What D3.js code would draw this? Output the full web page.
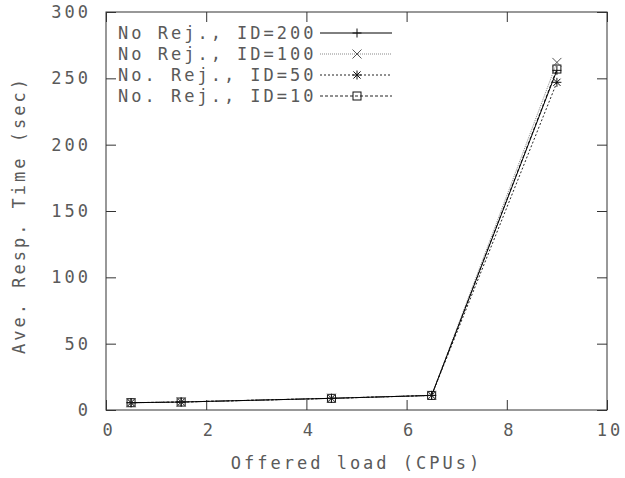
<!DOCTYPE html>
<html>
<head>
<meta charset="utf-8">
<script src="https://cdn.jsdelivr.net/npm/d3@7"></script>
<style>
  html, body { margin: 0; padding: 0; background: #fff; }
  text { font-family: "DejaVu Sans Mono", monospace; font-size: 17px; letter-spacing: 3px; fill: #5a5a5a; }
</style>
</head>
<body>
<svg id="chart" width="625" height="478"></svg>
<script>
// ---- data ----
const loads = [0.5, 1.5, 4.5, 6.5, 9];
const id200 = [5.5, 6, 8.8, 11, 256];
const id100 = [5.5, 6, 8.8, 11, 262];
const id50  = [5.5, 6, 8.8, 11, 247];
const id10  = [5.5, 6, 8.8, 11, 257];
const seriesNames = ["No Rej., ID=200", "No Rej., ID=100", "No. Rej., ID=50", "No. Rej., ID=10"];
const xTicks = [0, 2, 4, 6, 8, 10];
const yTicks = [0, 50, 100, 150, 200, 250, 300];
const xTitle = "Offered load (CPUs)";
const yTitle = "Ave. Resp. Time (sec)";

const seriesValues = [id200, id100, id50, id10];
const styles = [
  { dash: null,  color: "#000", marker: "plus" },
  { dash: "1,1", color: "#888", marker: "cross" },
  { dash: "2,2", color: "#222", marker: "star" },
  { dash: "3,2", color: "#222", marker: "square" }
];

const svg = d3.select("#chart");
const pL = 106, pR = 607, pT = 12, pB = 410;
const x = d3.scaleLinear().domain([0, 10]).range([pL, pR]);
const y = d3.scaleLinear().domain([0, 300]).range([pB, pT]);

// frame
svg.append("rect").attr("x", pL).attr("y", pT)
  .attr("width", pR - pL).attr("height", pB - pT)
  .attr("fill", "none").attr("stroke", "#333").attr("stroke-width", 1);

// axes (ticks inward, mirrored)
const tl = 10;
const axB = svg.append("g").attr("transform", `translate(0,${pB})`)
  .call(d3.axisBottom(x).tickValues(xTicks).tickSize(-tl).tickPadding(14).tickFormat(d3.format("d")));
const axT = svg.append("g").attr("transform", `translate(0,${pT})`)
  .call(d3.axisTop(x).tickValues(xTicks).tickSize(-tl).tickFormat(""));
const axL = svg.append("g").attr("transform", `translate(${pL},0)`)
  .call(d3.axisLeft(y).tickValues(yTicks).tickSize(-tl).tickPadding(15).tickFormat(d3.format("d")));
const axR = svg.append("g").attr("transform", `translate(${pR},0)`)
  .call(d3.axisRight(y).tickValues(yTicks).tickSize(-tl).tickFormat(""));
[axB, axT, axL, axR].forEach(g => {
  g.select(".domain").remove();
  g.selectAll(".tick line").attr("stroke", "#333");
  g.selectAll("text").attr("font-family", null).attr("font-size", null).attr("fill", null);
});
axB.selectAll(".tick text").attr("dy", "0.71em").attr("dx", "0.15em");

// titles
svg.append("text").attr("x", (pL + pR) / 2).attr("y", 463)
  .attr("text-anchor", "middle").attr("dominant-baseline", "central").text(xTitle);
svg.append("text").attr("transform", `translate(19,${(pT + pB) / 2 + 4}) rotate(-90)`)
  .attr("text-anchor", "middle").attr("dominant-baseline", "central").text(yTitle);

// marker drawer
function marker(g, type, cx, cy, color) {
  const s = 4.5;
  const m = g.append("g").attr("transform", `translate(${cx},${cy})`)
    .attr("stroke", color).attr("fill", "none").attr("stroke-width", 1);
  if (type === "plus" || type === "star") {
    m.append("line").attr("x1", -s).attr("x2", s).attr("y1", 0).attr("y2", 0);
    m.append("line").attr("x1", 0).attr("x2", 0).attr("y1", -s).attr("y2", s);
  }
  if (type === "cross" || type === "star") {
    const c = type === "star" ? s * 0.8 : s;
    m.append("line").attr("x1", -c).attr("x2", c).attr("y1", -c).attr("y2", c);
    m.append("line").attr("x1", -c).attr("x2", c).attr("y1", c).attr("y2", -c);
  }
  if (type === "square") {
    m.append("rect").attr("x", -4).attr("y", -4).attr("width", 8).attr("height", 8);
  }
}

const line = d3.line().x(d => x(d[0])).y(d => y(d[1]));
const plot = svg.append("g");

[3, 2, 1, 0].forEach(i => {
  const pts = loads.map((l, k) => [l, seriesValues[i][k]]);
  plot.append("path").datum(pts).attr("d", line)
    .attr("fill", "none").attr("stroke", styles[i].color)
    .attr("stroke-width", 1)
    .attr("stroke-dasharray", styles[i].dash);
});
[3, 2, 1, 0].forEach(i => {
  loads.forEach((l, k) => marker(plot, styles[i].marker, x(l), y(seriesValues[i][k]), styles[i].color === "#888" ? "#555" : "#111"));
});

// legend
const legY = [33, 54, 75, 96];
seriesNames.forEach((name, i) => {
  svg.append("text").attr("x", 118).attr("y", legY[i])
    .attr("dominant-baseline", "central").text(name);
  svg.append("line").attr("x1", 320).attr("x2", 392).attr("y1", legY[i]).attr("y2", legY[i])
    .attr("stroke", styles[i].color).attr("stroke-width", 1)
    .attr("stroke-dasharray", styles[i].dash);
  marker(svg, styles[i].marker, 357, legY[i], styles[i].color === "#888" ? "#555" : "#111");
});
</script>
</body>
</html>
